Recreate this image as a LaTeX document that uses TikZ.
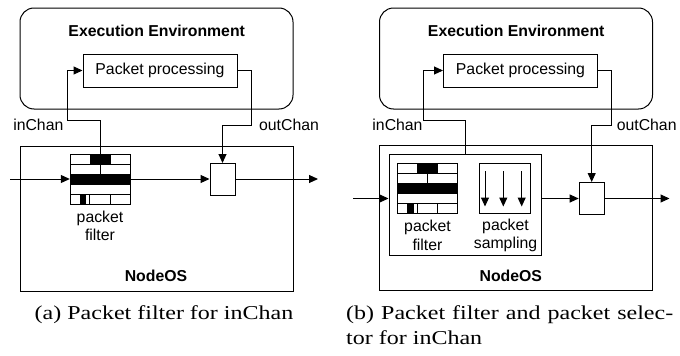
\documentclass[tikz,border=0pt]{standalone}
\usepackage{fontspec}
\setmainfont{Liberation Serif}
\newfontfamily\labelfont{Liberation Sans}
\usetikzlibrary{arrows.meta,calc}
\tikzset{
  lbl/.style={font=\labelfont\fontsize{15.8}{18.5}\selectfont, inner sep=0pt, align=center},
  blbl/.style={font=\labelfont\bfseries\fontsize{15.8}{18.5}\selectfont, inner sep=0pt},
  captxt/.style={font=\fontsize{24}{25}\selectfont, inner sep=0pt},
  boxnode/.style={draw, line width=1pt, inner sep=0pt},
  eenode/.style={draw, line width=1pt, rounded corners=14pt, minimum width=273pt, minimum height=101pt},
  osnode/.style={draw, line width=1pt, minimum width=273pt, minimum height=145pt},
  ppnode/.style={boxnode, minimum width=154pt, minimum height=33pt, font=\labelfont\fontsize{15.8}{18.5}\selectfont},
  smallbox/.style={boxnode, minimum width=25pt, minimum height=32pt},
  gridnode/.style={inner sep=0pt, minimum width=60pt, minimum height=50pt},
  conn/.style={line width=1pt, -{Triangle[length=9pt,width=8pt]}},
  gl/.style={line width=1pt},
}
\newcommand{\pfgridicon}[2]{%
  \begin{scope}[shift={(#1,#2)}]
    \fill (0,20) rectangle (60,30);
    \fill (20,0) rectangle (40,10);
    \fill (9.5,40) rectangle (16,50);
    \draw[gl] (0,0) rectangle (60,50);
    \foreach \yy in {10,20,30,40} \draw[gl] (0,\yy) -- (60,\yy);
    \draw[gl] (20,0) -- (20,10);
    \draw[gl] (40,0) -- (40,10);
    \draw[gl] (30,10) -- (30,20);
    \draw[gl] (19.5,40) -- (19.5,50);
    \draw[gl] (40,40) -- (40,50);
  \end{scope}}
\newcommand{\captext}[1]{\scalebox{1}[0.82]{#1}}
\begin{document}
\begin{tikzpicture}[x=1pt, y=-1pt]
\useasboundingbox (0,0) rectangle (680,356);

% ===================== (a) =====================
\node[eenode] (eeA) at (156.5,58.5) {};
\node[blbl] (eeAt) at (156.7,31) {Execution Environment};
\node[ppnode] (ppA) at (160,70.5) {Packet processing};
\node[osnode] (osA) at (156.5,218.5) {};
\node[blbl] (osAt) at (156,276) {NodeOS};
\pfgridicon{70}{154}
\node[gridnode] (pfA) at (100,179) {};
\node[smallbox] (boxA) at (222.5,179.5) {};
\node[lbl] (pfAt) at (100,226) {packet\\filter};
\node[lbl] (inAt) at (38.3,125) {inChan};
\node[lbl] (outAt) at (289,125) {outChan};

\coordinate (startA) at (10,179);
\coordinate (endA) at (318,179);
\coordinate (inA1) at (67,120);
\coordinate (outA1) at (251,125);

\draw[conn] (startA) -- (pfA.west);
\draw[conn] (pfA.east) -- (pfA.east -| boxA.west);
\draw[conn] (boxA.east |- endA) -- (endA);
\draw[conn] (pfA.north) |- (inA1) |- (ppA.west);
\draw[conn] (ppA.east) -| (outA1) -| (boxA.north);

\node[captxt, anchor=base] (capA) at (164,319.2) {\captext{(a) Packet filter for inChan}};

% ===================== (b) =====================
\node[eenode] (eeB) at (516,58.5) {};
\node[blbl] (eeBt) at (516.2,31) {Execution Environment};
\node[ppnode] (ppB) at (520.5,70.5) {Packet processing};
\node[osnode] (osB) at (516,218) {};
\node[blbl] (osBt) at (510.8,276) {NodeOS};
\node[boxnode, minimum width=152pt, minimum height=101pt] (inB) at (465,204.5) {};
\pfgridicon{397.5}{163.5}
\node[gridnode] (pfB) at (427.5,188.5) {};
\node[boxnode, minimum width=51pt, minimum height=50pt] (sB) at (504.7,188.3) {};
\foreach \xx in {485,503.3,521.7} \draw[conn] (\xx,171) -- (\xx,206.5);
\node[smallbox] (boxB) at (591.7,198.5) {};
\node[lbl] (pfBt) at (427.5,235.5) {packet\\filter};
\node[lbl] (sBt) at (505.5,235.5) {packet\\sampling};
\node[lbl] (inBt) at (397.5,125) {inChan};
\node[lbl] (outBt) at (646.7,125) {outChan};

\coordinate (startB) at (353,198.5);
\coordinate (endB) at (669.5,198.5);
\coordinate (inB1) at (423.5,120);
\coordinate (outB1) at (611.7,125);

\draw[conn] (startB) -- (startB -| inB.west);
\draw[conn] (inB.east |- boxB.west) -- (boxB.west);
\draw[conn] (boxB.east) -- (endB);
\draw[conn] (inB.north) |- (inB1) |- (ppB.west);
\draw[conn] (ppB.east) -| (outB1) -| (boxB.north);

\node[captxt, anchor=base west] (capB1) at (346,319.2) {\captext{\makebox[327pt][s]{(b) Packet filter and packet selec-}}};
\node[captxt, anchor=base west] (capB2) at (346,344) {\captext{tor for inChan}};
\end{tikzpicture}
\end{document}
